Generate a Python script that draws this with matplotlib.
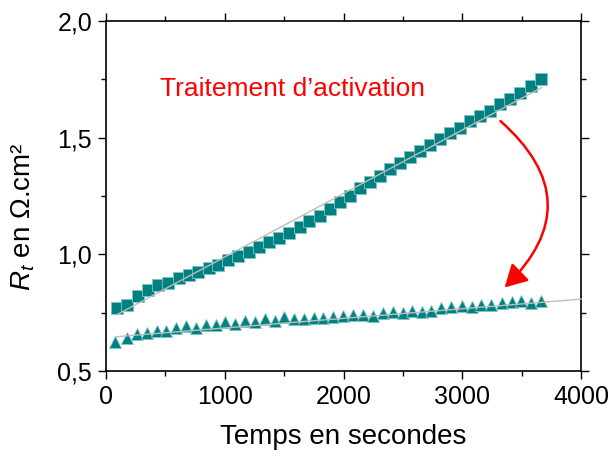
import numpy as np
import matplotlib
matplotlib.use("Agg")
import matplotlib.pyplot as plt
from matplotlib.patches import FancyArrowPatch
from matplotlib.ticker import FuncFormatter, MultipleLocator

plt.rcParams['font.family'] = ['Liberation Sans', 'DejaVu Sans']
plt.rcParams['mathtext.fontset'] = 'custom'
plt.rcParams['mathtext.rm'] = 'Liberation Sans'
plt.rcParams['mathtext.it'] = 'Liberation Sans:italic'

# Squares (before activation)
t_sq = [90, 179, 267, 356, 440, 525, 615, 699, 777, 867, 946, 1030, 1114, 1204,
        1288, 1375, 1457, 1541, 1634, 1712, 1802, 1886, 1971, 2055, 2139, 2223,
        2307, 2392, 2476, 2560, 2644, 2728, 2813, 2897, 2981, 3065, 3149, 3234,
        3318, 3402, 3486, 3579, 3663]
r_sq = [0.769, 0.784, 0.822, 0.848, 0.867, 0.879, 0.898, 0.913, 0.924, 0.941,
        0.955, 0.977, 0.994, 1.011, 1.032, 1.051, 1.070, 1.092, 1.118, 1.142,
        1.166, 1.195, 1.223, 1.252, 1.285, 1.309, 1.335, 1.364, 1.393, 1.418,
        1.442, 1.467, 1.493, 1.518, 1.543, 1.571, 1.593, 1.614, 1.643, 1.665,
        1.693, 1.722, 1.753]

# Triangles (after activation)
t_tr = [76, 174, 258, 342, 427, 505, 590, 674, 758, 842, 927, 1005, 1084, 1168,
        1253, 1337, 1421, 1500, 1584, 1668, 1752, 1829, 1913, 1997, 2082, 2166,
        2250, 2329, 2413, 2497, 2578, 2657, 2741, 2825, 2909, 2994, 3078, 3162,
        3246, 3331, 3415, 3494, 3578, 3662]
r_tr = [0.625, 0.642, 0.659, 0.663, 0.673, 0.673, 0.685, 0.695, 0.685, 0.699,
        0.696, 0.711, 0.702, 0.713, 0.711, 0.725, 0.713, 0.731, 0.721, 0.725,
        0.728, 0.728, 0.731, 0.735, 0.742, 0.739, 0.735, 0.749, 0.752, 0.749,
        0.759, 0.754, 0.759, 0.768, 0.774, 0.778, 0.774, 0.785, 0.785, 0.792,
        0.797, 0.799, 0.792, 0.802]

# Linear fits (endpoints)
fit_sq_t = [90, 3670]
fit_sq_r = [0.741, 1.715]
fit_tr_t = [90, 4000]
fit_tr_r = [0.647, 0.808]

teal = '#008080'
edge = '#7fc4c4'

fig = plt.figure(figsize=(6.12, 4.57), dpi=100)
ax = fig.add_axes([106/612, 1-371/457, (581-106)/612, (371-21)/457])

ax.plot(t_sq, r_sq, ls='none', marker='s', ms=8.2, mfc=teal, mec=edge, mew=0.6, zorder=3)
ax.plot(t_tr, r_tr, ls='none', marker='^', ms=9.0, mfc=teal, mec=edge, mew=0.6, zorder=3)
ax.plot(fit_sq_t, fit_sq_r, color='#bdbdbd', lw=1.0, zorder=4)
ax.plot(fit_tr_t, fit_tr_r, color='#bdbdbd', lw=1.0, zorder=4, clip_on=False)

ax.set_xlim(0, 4000)
ax.set_ylim(0.5, 2.0)
ax.xaxis.set_major_locator(MultipleLocator(1000))
ax.xaxis.set_minor_locator(MultipleLocator(500))
ax.yaxis.set_major_locator(MultipleLocator(0.5))
ax.yaxis.set_minor_locator(MultipleLocator(0.25))
ax.yaxis.set_major_formatter(FuncFormatter(lambda v, p: f"{v:.1f}".replace('.', ',')))

ax.tick_params(axis='both', which='major', direction='out', length=6, width=1,
               labelsize=18, top=True, right=True, pad=4)
ax.tick_params(axis='both', which='minor', direction='out', length=3.5, width=1,
               top=True, right=True)
ax.tick_params(axis='x', which='both', top=True, direction='out')
for s in ax.spines.values():
    s.set_linewidth(1.2)

ax.set_xlabel('Temps en secondes', fontsize=20, labelpad=11)
ax.set_ylabel(r'$\mathit{R}_{\mathit{t}}$ en Ω.cm²', fontsize=20)
ax.yaxis.set_label_coords(-0.145, 0.44)

ax.text(1570, 1.71, 'Traitement d\u2019activation', color='red', fontsize=19,
        ha='center', va='center')

arrow = FancyArrowPatch((3304, 1.579), (3340, 0.85),
                        connectionstyle='arc3,rad=-0.55',
                        arrowstyle='-|>,head_length=9,head_width=5',
                        color='red', lw=1.8, mutation_scale=1.5, zorder=5)
ax.add_patch(arrow)

fig.savefig('out.png', dpi=100)
